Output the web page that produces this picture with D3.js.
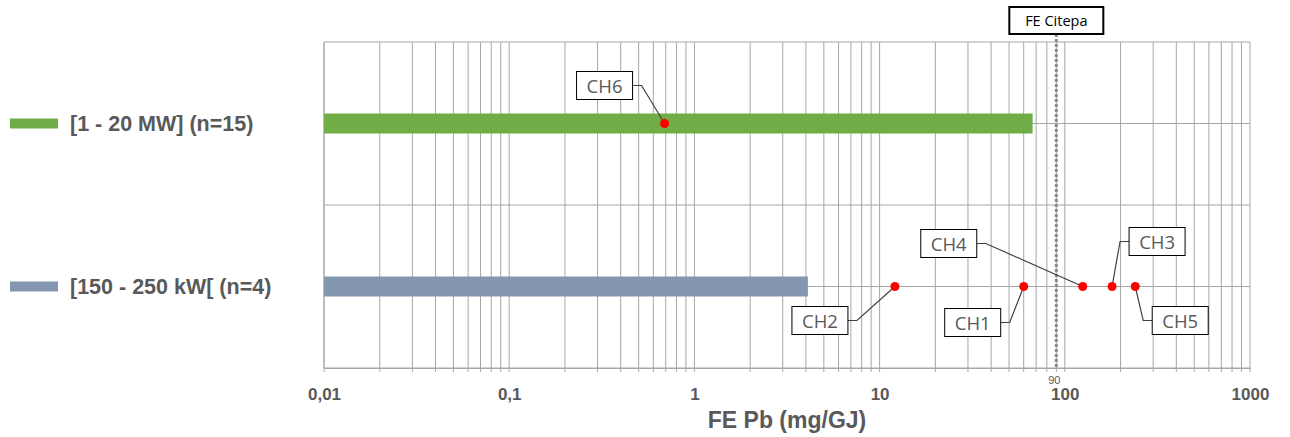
<!DOCTYPE html>
<html>
<head>
<meta charset="utf-8">
<script src="https://cdn.jsdelivr.net/npm/d3@7"></script>
<style>
  body { margin: 0; background: #fff; }
  svg { display: block; }
</style>
</head>
<body>
<svg id="chart" width="1290" height="437"></svg>
<script>
// categories (top to bottom) and bar values
const categories = ["[1 - 20 MW] (n=15)", "[150 - 250 kW[ (n=4)"];
const barValues = [67, 4.1];
const barColors = ["#70ad47", "#8497b0"];

// individual measured points
const pointNames = ["CH6", "CH2", "CH1", "CH4", "CH3", "CH5"];
const pointValues = [0.69, 12.1, 60, 125, 180, 240];
const pointRows = [0, 1, 1, 1, 1, 1];
// label offsets (box position relative to the point)
const labelDx = [-60, -75, -51, -134, 45, 45];
const labelDy = [-38, 34, 36, -43, -45, 34];

const refValue = 90;
const refLabel = "FE Citepa";
const tickValues = [0.01, 0.1, 1, 10, 100, 1000];
const tickLabels = ["0,01", "0,1", "1", "10", "100", "1000"];

const svg = d3.select("#chart");
const plotL = 324, plotR = 1250, plotT = 42, plotB = 368;

const x = d3.scaleLog().domain([0.01, 1000]).range([plotL, plotR]);
const y = d3.scaleLinear().domain([0, 4]).range([plotT, plotB]);
const rowY = i => y(1 + i * 2);

// minor + major vertical gridlines
const grid = [];
for (let e = -2; e < 3; e++) {
  for (let k = 1; k < 10; k++) grid.push(k * Math.pow(10, e));
}
grid.push(1000);

const g = svg.append("g");
g.selectAll("line.vgrid")
  .data(grid)
  .enter()
  .append("line")
  .attr("class", "vgrid")
  .attr("x1", d => x(d)).attr("x2", d => x(d))
  .attr("y1", plotT).attr("y2", plotB + 4)
  .attr("stroke", "#a6a6a6")
  .attr("stroke-width", 1);

g.selectAll("line.hgrid")
  .data(d3.range(0, 5))
  .enter()
  .append("line")
  .attr("class", "hgrid")
  .attr("x1", plotL).attr("x2", plotR)
  .attr("y1", d => y(d)).attr("y2", d => y(d))
  .attr("stroke", "#a6a6a6")
  .attr("stroke-width", 1);

g.append("line")
  .attr("x1", plotL).attr("x2", plotL)
  .attr("y1", plotT).attr("y2", plotB)
  .attr("stroke", "#a6a6a6");

// bars
svg.selectAll("rect.bar")
  .data(barValues)
  .enter()
  .append("rect")
  .attr("class", "bar")
  .attr("x", plotL)
  .attr("y", (d, i) => rowY(i) - 10)
  .attr("width", d => x(d) - plotL)
  .attr("height", 20)
  .attr("fill", (d, i) => barColors[i]);

// reference dashed line
svg.append("line")
  .attr("x1", x(refValue)).attr("x2", x(refValue))
  .attr("y1", plotT - 8).attr("y2", plotB)
  .attr("stroke", "#8c8c8c")
  .attr("stroke-width", 3)
  .attr("stroke-dasharray", "3,2");

svg.append("rect")
  .attr("x", x(refValue) - 47).attr("y", 7)
  .attr("width", 94).attr("height", 27)
  .attr("fill", "#fff")
  .attr("stroke", "#000")
  .attr("stroke-width", 2);
svg.append("text")
  .attr("x", x(refValue)).attr("y", 26)
  .attr("text-anchor", "middle")
  .attr("font-family", "'Open Sans', sans-serif")
  .attr("font-size", 14.5)
  .attr("fill", "#000")
  .text(refLabel);

svg.append("text")
  .attr("x", x(refValue) - 2).attr("y", 384)
  .attr("text-anchor", "middle")
  .attr("font-family", "'Liberation Sans Narrow', 'Liberation Sans', sans-serif")
  .attr("font-size", 11)
  .attr("fill", "#595959")
  .text(refValue);

// callouts
const pts = pointValues.map((v, i) => ({
  name: pointNames[i], v, cx: x(v), cy: rowY(pointRows[i]),
  dx: labelDx[i], dy: labelDy[i]
}));

const callouts = svg.selectAll("g.callout")
  .data(pts)
  .enter()
  .append("g")
  .attr("class", "callout");

callouts.append("polyline")
  .attr("points", d => {
    const bx = d.cx + d.dx, by = d.cy + d.dy;
    const edge = d.dx < 0 ? bx + 28 : bx - 28;
    const knee = d.dx < 0 ? edge + 9 : edge - 9;
    return `${edge},${by} ${knee},${by} ${d.cx},${d.cy}`;
  })
  .attr("fill", "none")
  .attr("stroke", "#404040")
  .attr("stroke-width", 1.2);

callouts.append("rect")
  .attr("x", d => d.cx + d.dx - 28)
  .attr("y", d => d.cy + d.dy - 14)
  .attr("width", 56).attr("height", 28)
  .attr("fill", "#fff")
  .attr("stroke", "#000")
  .attr("stroke-width", 1);

callouts.append("text")
  .attr("x", d => d.cx + d.dx)
  .attr("y", d => d.cy + d.dy + 7)
  .attr("text-anchor", "middle")
  .attr("font-family", "'Open Sans', sans-serif")
  .attr("font-size", 18.5)
  .attr("fill", "#595959")
  .text(d => d.name);

svg.selectAll("circle.pt")
  .data(pts)
  .enter()
  .append("circle")
  .attr("class", "pt")
  .attr("cx", d => d.cx).attr("cy", d => d.cy)
  .attr("r", 4.5)
  .attr("fill", "#ff0000");

// x axis
const axis = d3.axisBottom(x)
  .tickValues(tickValues)
  .tickFormat((d, i) => tickLabels[i])
  .tickSize(0)
  .tickPadding(20);
const ax = svg.append("g")
  .attr("transform", `translate(0,${plotB})`)
  .call(axis);
ax.select(".domain").attr("stroke", "#a6a6a6");
ax.selectAll("text")
  .attr("font-family", "'Liberation Sans Narrow', 'Liberation Sans', sans-serif")
  .attr("font-size", 17)
  .attr("font-weight", "bold")
  .attr("fill", "#595959");

svg.append("text")
  .attr("x", (plotL + plotR) / 2).attr("y", 428)
  .attr("text-anchor", "middle")
  .attr("font-family", "'Liberation Sans Narrow', 'Liberation Sans', sans-serif")
  .attr("font-size", 23)
  .attr("font-weight", "bold")
  .attr("fill", "#595959")
  .text("FE Pb (mg/GJ)");

// legend
const leg = svg.selectAll("g.leg")
  .data(categories)
  .enter()
  .append("g")
  .attr("class", "leg")
  .attr("transform", (d, i) => `translate(0,${rowY(i)})`);
leg.append("rect")
  .attr("x", 10).attr("y", -5)
  .attr("width", 48).attr("height", 10)
  .attr("fill", (d, i) => barColors[i]);
leg.append("text")
  .attr("x", 70).attr("y", 7)
  .attr("font-family", "'Liberation Sans', Arial, sans-serif")
  .attr("font-size", 21.5)
  .attr("font-weight", "bold")
  .attr("fill", "#595959")
  .text(d => d);
</script>
</body>
</html>
